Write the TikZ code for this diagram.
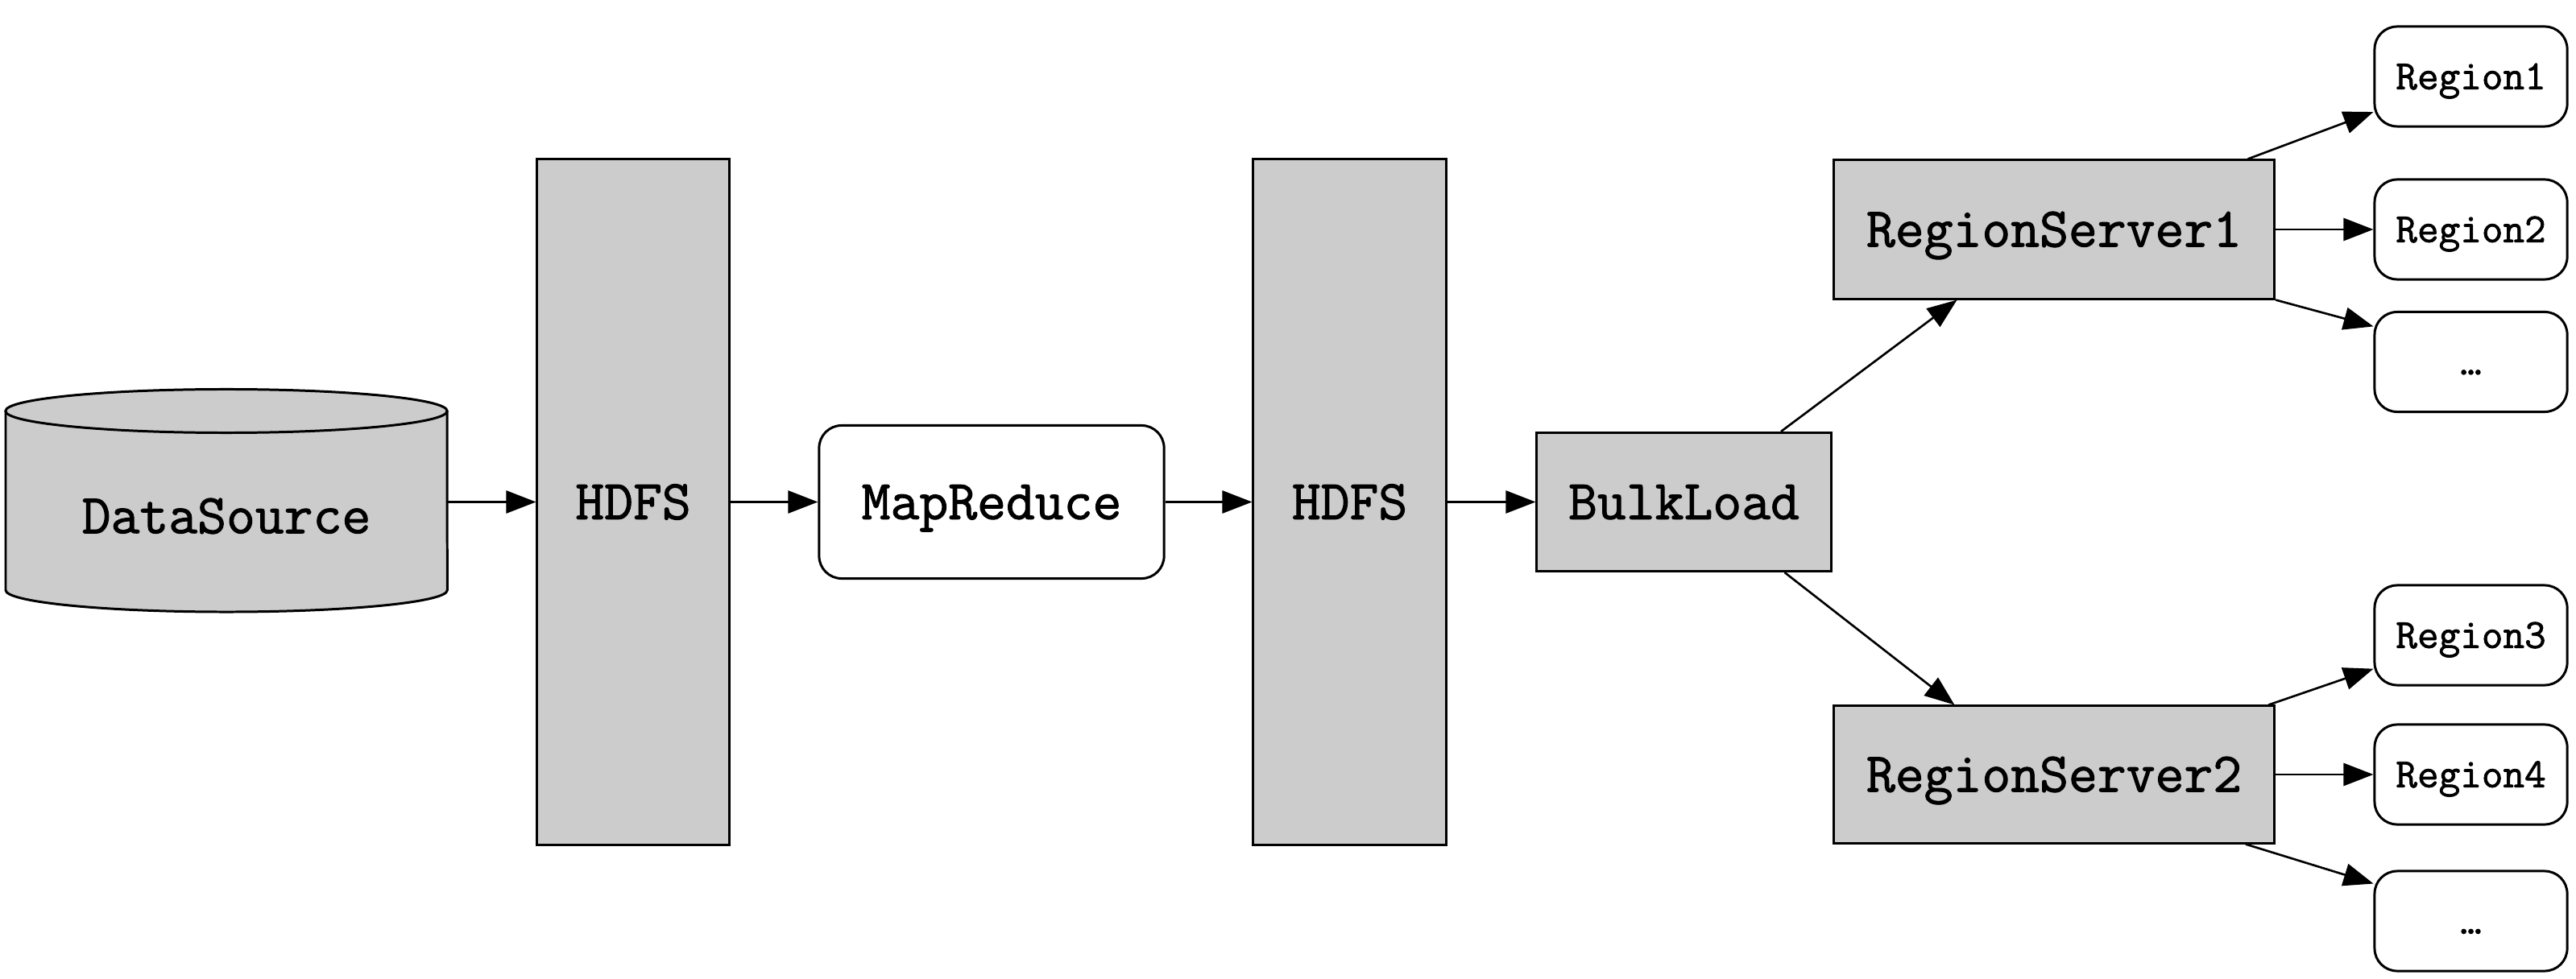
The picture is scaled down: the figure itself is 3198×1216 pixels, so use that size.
\documentclass[tikz,border=0pt]{standalone}
\usepackage{fontspec}
\setmonofont{Latin Modern Mono}[FakeBold=1.5]
\usetikzlibrary{arrows.meta}

\begin{document}
\begin{tikzpicture}[x=0.01cm, y=-0.01cm, line width=0.85pt,
		box/.style={draw, fill=gray!40, inner sep=0pt},
		rbox/.style={draw, fill=white, rounded corners=0.28cm, inner sep=0pt},
		big/.style={font=\ttfamily\fontsize{19.8}{24}\selectfont, text height=12.1pt, text depth=0pt},
		small/.style={font=\ttfamily\fontsize{14.7}{18}\selectfont, text height=9pt, text depth=0pt},
		arr/.style={-{Triangle[length=0.37cm, width=0.28cm]}, line width=0.75pt}]

		\useasboundingbox (0,0) rectangle (3198,1216);

		% data source drum
		\fill[gray!40] (7,733) arc[start angle=180, end angle=360, x radius=2.74cm, y radius=0.27cm]
			-- (555,510.5) -- (7,510.5) -- cycle;
		\draw (7,510.5) -- (7,733) arc[start angle=180, end angle=360, x radius=2.74cm, y radius=0.27cm]
			-- (555,510.5);
		\draw[fill=gray!40] (281,510.5) ellipse[x radius=2.74cm, y radius=0.27cm];
		\node[big] (ds) at (281,641) {DataSource};
		\coordinate (dsr) at (555,623.5);

		% pipeline
		\node[box, big, minimum width=2.38cm, minimum height=8.51cm] (hdfsa) at (786,623.5) {HDFS};
		\node[rbox, big, minimum width=4.28cm, minimum height=1.90cm] (mr) at (1231,623.5) {MapReduce};
		\node[box, big, minimum width=2.39cm, minimum height=8.52cm] (hdfsb) at (1675.5,623.5) {HDFS};
		\node[box, big, minimum width=3.65cm, minimum height=1.72cm] (bl) at (2090.5,623.5) {BulkLoad};
		\node[box, big, minimum width=5.47cm, minimum height=1.72cm] (rsa) at (2550,285) {RegionServer1};
		\node[box, big, minimum width=5.47cm, minimum height=1.70cm] (rsb) at (2550,962) {RegionServer2};

		\foreach \n/\y/\t in {ra/95/Region1, rb/285/Region2, rc/449.5/…,
				rd/789/Region3, re/962/Region4, rf/1144/…}
			\node[rbox, small, minimum width=2.39cm, minimum height=1.24cm] (\n) at (3067.5,\y) {\t};

		\draw[arr] (dsr) -- (hdfsa);
		\draw[arr] (hdfsa) -- (mr);
		\draw[arr] (mr) -- (hdfsb);
		\draw[arr] (hdfsb) -- (bl);
		\draw[arr] (bl.36) -- (rsa.216);
		\draw[arr] (bl.-35) -- (rsb.145);

		\draw[arr] (rsa.20) -- (ra.200);
		\draw[arr] (rsa) -- (rb);
		\draw[arr] (rsa.south east) -- (rc.160);
		\draw[arr] (rsb.18) -- (rd.199);
		\draw[arr] (rsb) -- (re);
		\draw[arr] (rsb.-20) -- (rf.159);
	\end{tikzpicture}
\end{document}
